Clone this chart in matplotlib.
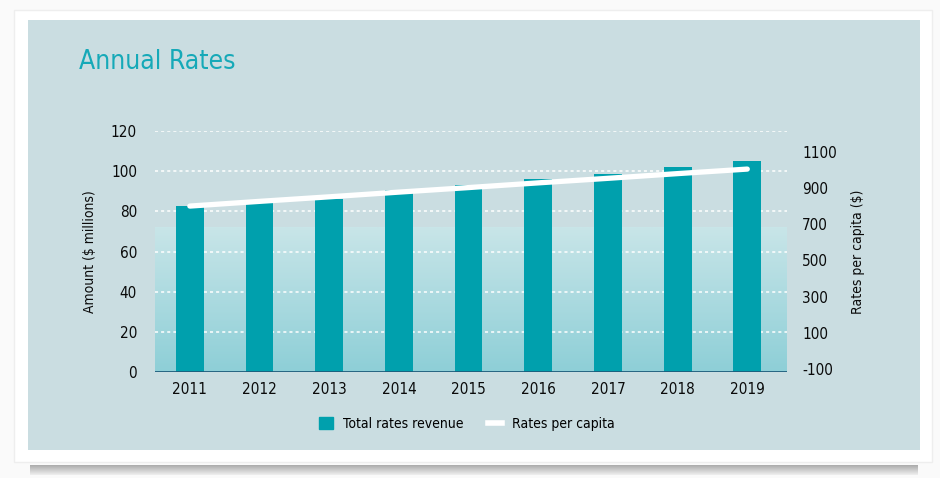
import numpy as np
import matplotlib.pyplot as plt
from matplotlib.patches import Rectangle
from matplotlib.lines import Line2D
from matplotlib.colors import LinearSegmentedColormap

years = ['2011', '2012', '2013', '2014', '2015', '2016', '2017', '2018', '2019']
revenue = [82.8, 84.3, 86.2, 90.7, 93.3, 96.0, 98.8, 102.3, 105.0]
per_capita = [800, 826, 851, 877, 902, 928, 953, 979, 1004]
left_ticks = [0, 20, 40, 60, 80, 100, 120]
right_ticks = [-100, 100, 300, 500, 700, 900, 1100]

teal = '#00a0ad'
panel = '#cadde1'
plt.rcParams['font.family'] = ['DejaVu Sans']
plt.rcParams['font.stretch'] = 'condensed'
plt.rcParams['axes.unicode_minus'] = False

fig = plt.figure(figsize=(9.4, 4.78), dpi=100)
fig.patch.set_facecolor('#fafafa')

W, H = 940, 478
# shadow under the card, then the white card and the panel
for i, a in enumerate(np.linspace(0.6, 0.1, 10)):
    fig.patches.append(Rectangle((30 / W, 1 - (466 + i) / H), 888 / W, 1 / H,
                                 transform=fig.transFigure, facecolor='#7a7a7a',
                                 edgecolor='none', alpha=a, zorder=-3))
fig.patches.append(Rectangle((14 / W, 1 - 462 / H), 918 / W, 452 / H, transform=fig.transFigure,
                             facecolor='white', edgecolor='#eeeeee', zorder=-2))
fig.patches.append(Rectangle((28 / W, 1 - 450 / H), 892 / W, 430 / H, transform=fig.transFigure,
                             facecolor=panel, edgecolor='none', zorder=-1))

ax = fig.add_axes([155 / W, 1 - 372 / H, 632 / W, 241 / H])
ax.set_facecolor('none')
x = np.arange(len(years))

# gradient band behind the bars
grad = np.linspace(0, 1, 100).reshape(-1, 1)
cm = LinearSegmentedColormap.from_list('band', ['#8ecfd7', '#c8e5e8'])
ax.imshow(grad, extent=[-0.5, 8.57, 0, 72], origin='lower', cmap=cm, aspect='auto', zorder=0)

for t in left_ticks[1:]:
    ax.axhline(t, color='white', lw=1.1, ls=(0, (2, 2)), zorder=1)

ax.bar(x, revenue, width=0.4, color=teal, zorder=2)
ax.axhline(0, color='#1d5b7a', lw=2, zorder=3)
ax.set_xlim(-0.5, 8.57)
ax.set_ylim(0, 120)

ax.set_xticks(x)
ax.set_xticklabels(years)
ax.set_yticks(left_ticks)
for s in ax.spines.values():
    s.set_visible(False)
ax.tick_params(length=0, labelsize=11, colors='#0a0a0a', pad=7)
ax.tick_params(axis='y', pad=13)
ax.set_ylabel('Amount ($ millions)', fontsize=10, labelpad=10, color='#0a0a0a')

ax2 = ax.twinx()
ax2.set_ylim(-115, 1214)
ax2.plot(x, per_capita, color='white', lw=3.8, solid_capstyle='round', zorder=4)
ax2.set_yticks(right_ticks)
for s in ax2.spines.values():
    s.set_visible(False)
ax2.tick_params(length=0, labelsize=11, colors='#0a0a0a', pad=11)
ax2.set_ylabel('Rates per capita ($)', fontsize=10, labelpad=10, color='#0a0a0a')

fig.text(79 / W, 1 - 62 / H, 'Annual Rates', fontsize=19, color='#16a9b8', va='center', ha='left')

handles = [Rectangle((0, 0), 1, 1, color=teal),
           Line2D([], [], color='white', lw=4)]
fig.legend(handles, ['Total rates revenue', 'Rates per capita'], loc='center',
           bbox_to_anchor=(467 / W, 1 - 424 / H), ncol=2, frameon=False, fontsize=10,
           handlelength=1.0, handleheight=1.0, columnspacing=1.8, handletextpad=0.7)

fig.savefig('out.png', dpi=100, facecolor=fig.get_facecolor())
